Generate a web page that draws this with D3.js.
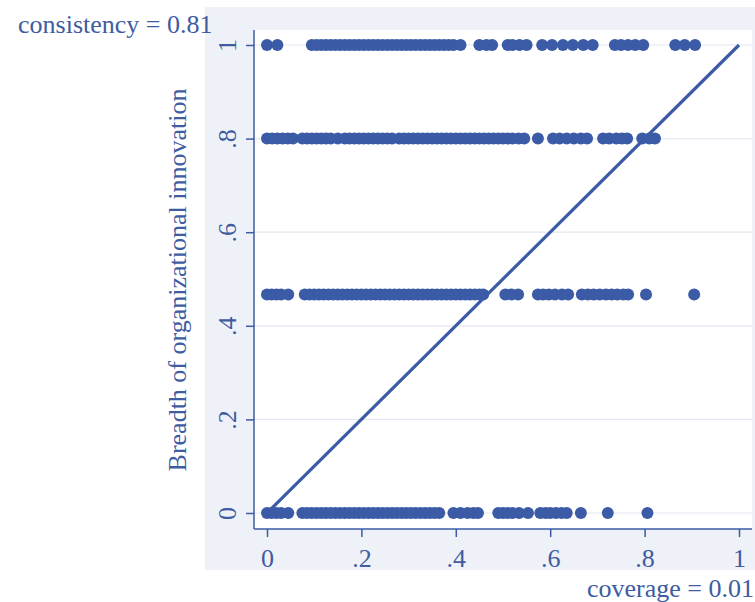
<!DOCTYPE html>
<html><head><meta charset="utf-8">
<script src="https://cdn.jsdelivr.net/npm/d3@7"></script>
<style>body{margin:0;background:#fff;}svg{display:block;}</style>
</head><body>
<script>
// Data
const xTicks = [0, 0.2, 0.4, 0.6, 0.8, 1];
const xTickLabels = ["0", ".2", ".4", ".6", ".8", "1"];
const yTicks = [0, 0.2, 0.4, 0.6, 0.8, 1];
const yTickLabels = ["0", ".2", ".4", ".6", ".8", "1"];
const yLevels = [1, 0.8, 0.467, 0];

const row1 = [0, 0.022, 0.095, 0.105, 0.115, 0.125, 0.135, 0.145, 0.155, 0.165, 0.175, 0.185, 0.195, 0.205, 0.215, 0.225, 0.235, 0.245, 0.255, 0.265, 0.275, 0.285, 0.295, 0.305, 0.315, 0.325, 0.335, 0.345, 0.355, 0.365, 0.375, 0.385, 0.395, 0.41, 0.45, 0.465, 0.477, 0.51, 0.52, 0.535, 0.55, 0.583, 0.604, 0.627, 0.648, 0.67, 0.69, 0.737, 0.75, 0.765, 0.78, 0.797, 0.865, 0.885, 0.907];
const row08 = [0, 0.011, 0.022, 0.033, 0.044, 0.055, 0.075, 0.085, 0.095, 0.105, 0.115, 0.125, 0.135, 0.15, 0.165, 0.175, 0.185, 0.195, 0.205, 0.215, 0.225, 0.235, 0.245, 0.255, 0.265, 0.28, 0.29, 0.3, 0.31, 0.32, 0.33, 0.34, 0.35, 0.36, 0.37, 0.38, 0.39, 0.4, 0.41, 0.42, 0.43, 0.44, 0.45, 0.46, 0.47, 0.48, 0.49, 0.5, 0.51, 0.52, 0.533, 0.545, 0.574, 0.606, 0.62, 0.635, 0.65, 0.665, 0.678, 0.712, 0.725, 0.74, 0.752, 0.763, 0.795, 0.81, 0.822];
const row0467 = [0, 0.01, 0.02, 0.03, 0.045, 0.08, 0.09, 0.1, 0.11, 0.12, 0.13, 0.14, 0.15, 0.16, 0.17, 0.18, 0.19, 0.2, 0.21, 0.22, 0.23, 0.24, 0.25, 0.26, 0.27, 0.28, 0.29, 0.3, 0.31, 0.32, 0.33, 0.34, 0.35, 0.36, 0.37, 0.38, 0.39, 0.4, 0.41, 0.42, 0.43, 0.44, 0.45, 0.458, 0.505, 0.518, 0.532, 0.574, 0.585, 0.597, 0.61, 0.625, 0.638, 0.667, 0.68, 0.692, 0.705, 0.718, 0.73, 0.742, 0.755, 0.765, 0.803, 0.905];
const row0 = [0, 0.01, 0.02, 0.03, 0.045, 0.075, 0.085, 0.095, 0.105, 0.115, 0.125, 0.135, 0.145, 0.155, 0.165, 0.175, 0.185, 0.195, 0.205, 0.215, 0.225, 0.235, 0.245, 0.255, 0.265, 0.275, 0.285, 0.295, 0.305, 0.315, 0.325, 0.335, 0.345, 0.355, 0.365, 0.395, 0.41, 0.425, 0.437, 0.447, 0.49, 0.5, 0.51, 0.52, 0.534, 0.553, 0.579, 0.59, 0.6, 0.612, 0.624, 0.635, 0.665, 0.722, 0.806];
const rows = [row1, row08, row0467, row0];
const lineData = [[0, 0], [1, 1]];

const yTitle = "Breadth of organizational innovation";
const consistencyText = "consistency = 0.81";
const coverageText = "coverage = 0.01";

const W = 755, H = 602;
const navy = "#3b5ba6";
const textCol = "#3e5c9f";
const font = "'Liberation Serif', 'DejaVu Serif', serif";

const svg = d3.select("body").append("svg").attr("width", W).attr("height", H);

// outer graph region
svg.append("rect").attr("x", 205).attr("y", 7).attr("width", 560).attr("height", 563).attr("fill", "#eef2f8");
// plot region
const plot = {left: 254, right: 752, top: 30, bottom: 529};
svg.append("rect").attr("x", plot.left).attr("y", plot.top)
  .attr("width", plot.right - plot.left).attr("height", plot.bottom - plot.top).attr("fill", "#ffffff");

const x = d3.scaleLinear().domain([0, 1]).range([267, 739]);
const y = d3.scaleLinear().domain([0, 1]).range([513, 45]);

// gridlines
svg.append("g").selectAll("line").data(yTicks).join("line")
  .attr("x1", plot.left).attr("x2", plot.right)
  .attr("y1", d => y(d)).attr("y2", d => y(d))
  .attr("stroke", "#e3e8f1").attr("stroke-width", 1.2);

// axes
const xAxis = d3.axisBottom(x).tickValues(xTicks).tickSize(8).tickPadding(6)
  .tickFormat((d, i) => xTickLabels[i]);
const gx = svg.append("g").attr("transform", `translate(0,${plot.bottom})`).call(xAxis);
gx.select(".domain").attr("d", `M${plot.left},0H${plot.right}`).attr("stroke", navy).attr("stroke-width", 1.5);
gx.selectAll(".tick line").attr("stroke", navy).attr("stroke-width", 1.5);
gx.selectAll(".tick text").attr("fill", textCol).attr("font-family", font).attr("font-size", 26)
  .attr("dy", null).attr("y", 38);

const yAxis = d3.axisLeft(y).tickValues(yTicks).tickSize(8).tickFormat((d, i) => yTickLabels[i]);
const gy = svg.append("g").attr("transform", `translate(${plot.left},0)`).call(yAxis);
gy.select(".domain").attr("d", `M0,${plot.top}V${plot.bottom}`).attr("stroke", navy).attr("stroke-width", 1.5);
gy.selectAll(".tick line").attr("stroke", navy).attr("stroke-width", 1.5);
gy.selectAll(".tick text").attr("fill", textCol).attr("font-family", font).attr("font-size", 26)
  .attr("x", null).attr("dy", null).attr("text-anchor", "middle")
  .attr("transform", "translate(-18,0) rotate(-90)");

svg.selectAll(".domain, .tick line").attr("fill", "none");

// points
const pts = [];
rows.forEach((r, i) => r.forEach(v => pts.push([v, yLevels[i]])));
svg.append("g").selectAll("circle").data(pts).join("circle")
  .attr("cx", d => x(d[0])).attr("cy", d => y(d[1])).attr("r", 6)
  .attr("fill", navy);

// diagonal line
svg.append("path").datum(lineData)
  .attr("d", d3.line().x(d => x(d[0])).y(d => y(d[1])))
  .attr("stroke", navy).attr("stroke-width", 3.2).attr("fill", "none");

// y title
svg.append("text").attr("transform", "translate(186,280) rotate(-90)")
  .attr("text-anchor", "middle").attr("font-family", font).attr("font-size", 26)
  .attr("fill", textCol).text(yTitle);

svg.append("text").attr("x", 18).attr("y", 33).attr("font-family", font).attr("font-size", 26)
  .attr("fill", textCol).text(consistencyText);
svg.append("text").attr("x", 587).attr("y", 597).attr("font-family", font).attr("font-size", 26)
  .attr("fill", textCol).text(coverageText);
</script>
</body></html>
